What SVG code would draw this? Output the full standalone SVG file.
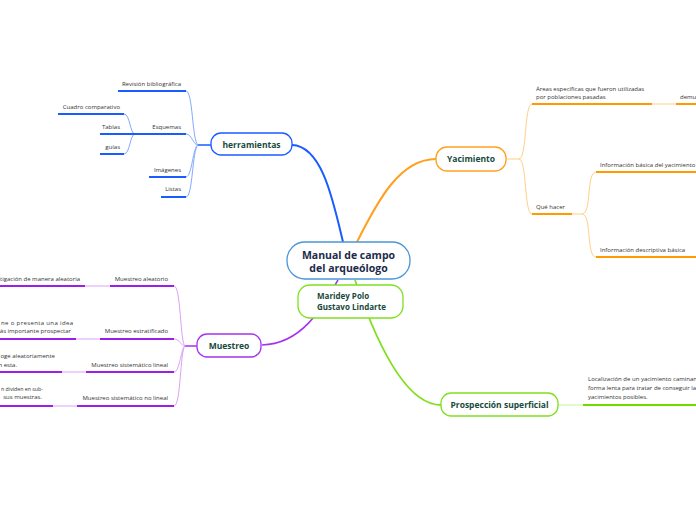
<svg xmlns="http://www.w3.org/2000/svg" width="696" height="520" viewBox="0 0 696 520">
<style>
.t{font-family:"Open Sans","Noto Sans",sans-serif;font-size:6px;fill:#333}
.n{font-family:"Open Sans","Noto Sans",sans-serif;font-size:8.5px;font-weight:bold;fill:#174a3c;text-anchor:middle}
.box{fill:#fff;stroke-width:1.3}
.c{fill:none}
.ub{stroke:#1a5cff;stroke-width:2}
.lb{stroke:#82a9ff;stroke-width:1}
.up{stroke:#9b1fe8;stroke-width:2}
.lp{stroke:#d9a2f8;stroke-width:1}
.uo{stroke:#ff9a00;stroke-width:2}
.lo{stroke:#ffcf85;stroke-width:1}
.ug{stroke:#6fdc00;stroke-width:2}
.lg{stroke:#c6f39c;stroke-width:1}
</style>
<rect width="696" height="520" fill="#fff"/>
<g id="connectors" class="c">
  <path d="M292,145 C322,146 333,200 343,242" stroke="#1a5cff" stroke-width="2"/>
  <path d="M357,242 C378,200 400,159 436,159" stroke="#ffa020" stroke-width="2"/>
  <path d="M338,280 C322,308 302,344 262,345" stroke="#a532f0" stroke-width="1.6"/>
  <path d="M355,280 C372,330 402,405 441,405" stroke="#7fe020" stroke-width="1.8"/>
  <path d="M211,145 L198,145" stroke="#1a5cff" stroke-width="1.5"/>
  <path d="M186,91 C193,91 192,141 198,145" class="lb"/>
  <path d="M186,134 C192,134 193,145 198,145" class="lb"/>
  <path d="M186,177 C192,177 193,146 198,145" class="lb"/>
  <path d="M186,197 C193,197 192,150 198,145" class="lb"/>
  <path d="M124,114 C130,114 130,134 135,134" class="lb"/>
  <path d="M124,134 L135,134" class="lb"/>
  <path d="M124,154 C130,154 130,134 135,134" class="lb"/>
  <line x1="118" y1="91" x2="186" y2="91" class="ub"/>
  <line x1="123" y1="134" x2="186" y2="134" class="ub"/>
  <line x1="58" y1="114" x2="124" y2="114" class="ub"/>
  <line x1="100" y1="134" x2="124" y2="134" class="ub"/>
  <line x1="100" y1="154" x2="124" y2="154" class="ub"/>
  <line x1="149" y1="177" x2="186" y2="177" class="ub"/>
  <line x1="161" y1="197" x2="186" y2="197" class="ub"/>
  <path d="M197,346 L185,346" stroke="#a532f0" stroke-width="1.5"/>
  <path d="M174,286 C181,286 180,342 185,346" class="lp"/>
  <path d="M174,339 C180,339 181,346 185,346" class="lp"/>
  <path d="M174,372 C180,372 181,347 185,346" class="lp"/>
  <path d="M174,406 C181,406 180,350 185,346" class="lp"/>
  <line x1="110" y1="286" x2="174" y2="286" class="up"/>
  <line x1="85" y1="286" x2="110" y2="286" class="lp"/>
  <line x1="0" y1="286" x2="85" y2="286" class="up"/>
  <line x1="100" y1="339" x2="174" y2="339" class="up"/>
  <line x1="76" y1="339" x2="100" y2="339" class="lp"/>
  <line x1="0" y1="339" x2="76" y2="339" class="up"/>
  <line x1="86" y1="372" x2="174" y2="372" class="up"/>
  <line x1="62" y1="372" x2="86" y2="372" class="lp"/>
  <line x1="0" y1="372" x2="62" y2="372" class="up"/>
  <line x1="77" y1="406" x2="174" y2="406" class="up"/>
  <line x1="53" y1="406" x2="77" y2="406" class="lp"/>
  <line x1="0" y1="406" x2="53" y2="406" class="up"/>
  <path d="M506,159 L519,159" class="lo"/>
  <path d="M519,159 C527,159 524,104 532,104" class="lo"/>
  <path d="M519,159 C527,159 524,214 532,214" class="lo"/>
  <line x1="532" y1="104" x2="652" y2="104" class="uo"/>
  <line x1="652" y1="104" x2="676" y2="104" class="lo"/>
  <line x1="676" y1="104" x2="696" y2="104" class="uo"/>
  <line x1="532" y1="214" x2="572" y2="214" class="uo"/>
  <path d="M572,214 L582,214" class="lo"/>
  <path d="M582,214 C592,214 586,172 596,172" class="lo"/>
  <path d="M582,214 C592,214 586,257 596,257" class="lo"/>
  <line x1="596" y1="172" x2="696" y2="172" class="uo"/>
  <line x1="596" y1="257" x2="696" y2="257" class="uo"/>
  <path d="M558,405 L583,405" class="lg"/>
  <line x1="583" y1="405" x2="696" y2="405" class="ug"/>
</g>
<g id="center">
  <rect x="287" y="242" width="123" height="37" rx="18" class="box" stroke="#4a96d8"/>
  <text x="348.5" y="258.5" class="n" style="font-size:10.5px;fill:#1c2b4a">Manual de campo</text>
  <text x="348.5" y="271.5" class="n" style="font-size:10.5px;fill:#1c2b4a">del arqueólogo</text>
</g>
<g id="autores">
  <rect x="298" y="285" width="105" height="33" rx="12" class="box" stroke="#7fe020"/>
  <text x="317" y="299" class="n" style="text-anchor:start;font-size:8px">Maridey Polo</text>
  <text x="317" y="310" class="n" style="text-anchor:start;font-size:8px">Gustavo Lindarte</text>
</g>
<g id="herramientas">
  <rect x="211" y="133" width="81" height="22" rx="10" class="box" stroke="#1a5cff"/>
  <text x="251.5" y="147.5" class="n">herramientas</text>
</g>
<g id="yacimiento">
  <rect x="436" y="147" width="70" height="24" rx="11" class="box" stroke="#ffa020"/>
  <text x="471" y="162" class="n">Yacimiento</text>
</g>
<g id="muestreo">
  <rect x="197" y="334" width="64" height="23" rx="10" class="box" stroke="#a532f0"/>
  <text x="229" y="348.5" class="n">Muestreo</text>
</g>
<g id="prospeccion">
  <rect x="441" y="393" width="117" height="23" rx="10" class="box" stroke="#7fe020"/>
  <text x="499.5" y="408" class="n">Prospección superficial</text>
</g>
<g id="labels" class="t">
  <text x="181" y="86" text-anchor="end">Revisión bibliográfica</text>
  <text x="181" y="129" text-anchor="end">Esquemas</text>
  <text x="120" y="109" text-anchor="end">Cuadro comparativo</text>
  <text x="120" y="129" text-anchor="end">Tablas</text>
  <text x="120" y="149" text-anchor="end">guías</text>
  <text x="181" y="172" text-anchor="end">Imágenes</text>
  <text x="181" y="191" text-anchor="end">Listas</text>
  <text x="168" y="281" text-anchor="end">Muestreo aleatorio</text>
  <text x="80" y="281" text-anchor="end">tigación de manera aleatoria</text>
  <text x="168" y="333" text-anchor="end">Muestreo estratificado</text>
  <text x="1" y="325" textLength="72" lengthAdjust="spacing">ne o presenta una idea</text>
  <text x="71" y="333" text-anchor="end">ás importante prospectar</text>
  <text x="168" y="367" text-anchor="end">Muestreo sistemático lineal</text>
  <text x="55" y="358" text-anchor="end">oge aleatoriamente</text>
  <text x="17" y="367" text-anchor="end">n esta.</text>
  <text x="168" y="400" text-anchor="end">Muestreo sistemático no lineal</text>
  <text x="1" y="391" textLength="42" lengthAdjust="spacingAndGlyphs">n dividen en sub-</text>
  <text x="42" y="399" text-anchor="end">sus muestras.</text>
  <text x="536" y="91">Áreas específicas que fueron utilizadas</text>
  <text x="536" y="99">por poblaciones pasadas</text>
  <text x="680" y="99">demu</text>
  <text x="536" y="209">Qué hacer</text>
  <text x="600" y="167">Información básica del yacimiento</text>
  <text x="600" y="252">Información descriptiva básica</text>
  <text x="588" y="381">Localización de un yacimiento caminan</text>
  <text x="588" y="390">forma lenta para tratar de conseguir la</text>
  <text x="588" y="399">yacimientos posibles.</text>
</g>
</svg>
